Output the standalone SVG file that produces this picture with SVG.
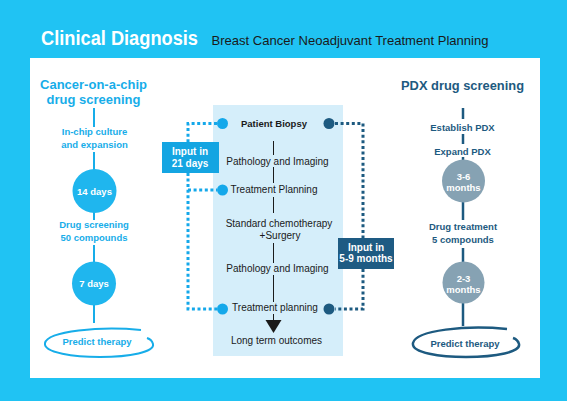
<svg xmlns="http://www.w3.org/2000/svg" width="567" height="401" viewBox="0 0 567 401">
<defs>
<style>
.t{font-family:"Liberation Sans",Arial,sans-serif}
.b{font-weight:bold}
.c{text-anchor:middle}
.lb{fill:#17ade9}
.db{fill:#1d5a80}
.w{fill:#ffffff}
.k{fill:#1a1a1a}
.ll{stroke:#17ade9;stroke-width:2;fill:none}
.dl{stroke:#1d5a80;stroke-width:2.5;fill:none}
.kl{stroke:#1a1a1a;stroke-width:1;fill:none}
.dotL{stroke:#14a8ea;stroke-width:3;stroke-dasharray:3 2.6;fill:none}
.dotR{stroke:#1d5a80;stroke-width:3;stroke-dasharray:3 2.6;fill:none}
</style>
</defs>
<rect x="0" y="0" width="567" height="401" fill="#20c3f3"/>
<rect x="30" y="58" width="510" height="320" fill="#ffffff"/>
<g id="title">
<text class="t b w" x="41" y="44.5" font-size="20" textLength="157" lengthAdjust="spacingAndGlyphs">Clinical Diagnosis</text>
<text class="t k" x="211.5" y="45" font-size="13" textLength="277" lengthAdjust="spacingAndGlyphs">Breast Cancer Neoadjuvant Treatment Planning</text>
</g>
<rect id="center-panel" x="213" y="105" width="130" height="251" fill="#d5eefa"/>

<g id="connectors">
<line class="ll" x1="94" y1="108" x2="94" y2="127"/>
<line class="ll" x1="94" y1="152" x2="94" y2="170"/>
<line class="ll" x1="94" y1="212" x2="94" y2="220"/>
<line class="ll" x1="94" y1="245" x2="94" y2="262"/>
<line class="ll" x1="94" y1="305" x2="94" y2="323"/>
<line class="dl" x1="463" y1="108" x2="463" y2="119"/>
<line class="dl" x1="463" y1="134" x2="463" y2="144"/>
<line class="dl" x1="463" y1="157" x2="463" y2="160"/>
<line class="dl" x1="463" y1="202" x2="463" y2="220"/>
<line class="dl" x1="463" y1="248" x2="463" y2="262"/>
<line class="dl" x1="463" y1="303" x2="463" y2="326"/>
<line class="kl" x1="273.5" y1="141" x2="273.5" y2="155"/>
<line class="kl" x1="273.5" y1="167" x2="273.5" y2="183"/>
<line class="kl" x1="273.5" y1="197" x2="273.5" y2="213"/>
<line class="kl" x1="273.5" y1="243" x2="273.5" y2="263"/>
<line class="kl" x1="273.5" y1="275" x2="273.5" y2="302"/>
<line class="kl" x1="273.5" y1="314" x2="273.5" y2="321"/>
<polygon points="265.5,320 281.5,320 273.5,333" fill="#1a1a1a"/>
<path class="dotL" d="M217,123.5 H188 V309 H217"/>
<path class="dotL" d="M188,190 H217"/>
<path class="dotR" d="M335,123.5 H363 V309 H335"/>
</g>

<g id="left-header">
<text class="t b lb c" x="93.5" y="89" font-size="13.5" textLength="107" lengthAdjust="spacingAndGlyphs">Cancer-on-a-chip</text>
<text class="t b lb c" x="93.5" y="104" font-size="13.5" textLength="94" lengthAdjust="spacingAndGlyphs">drug screening</text>
</g>
<g id="left-culture">
<text class="t b lb c" x="94.5" y="135" font-size="9.5">In-chip culture</text>
<text class="t b lb c" x="94.5" y="148" font-size="9.5">and expansion</text>
</g>
<g id="left-14days">
<circle cx="94.5" cy="191" r="22" fill="#1fb6ee"/>
<text class="t b w c" x="94.5" y="194.5" font-size="9.5">14 days</text>
</g>
<g id="left-screening">
<text class="t b lb c" x="94" y="228" font-size="9.5">Drug screening</text>
<text class="t b lb c" x="94" y="241" font-size="9.5">50 compounds</text>
</g>
<g id="left-7days">
<circle cx="94" cy="283.5" r="22" fill="#1fb6ee"/>
<text class="t b w c" x="94" y="287" font-size="9.5">7 days</text>
</g>
<g id="left-predict">
<path class="ll" d="M141,330 C100,326 48,331 45,343 C43,353 75,357 100,357 C130,357 155,352 153,344 C152,340 150,339 147,338"/>
<text class="t b lb c" x="97" y="344.5" font-size="9.5">Predict therapy</text>
</g>

<g id="right-header">
<text class="t b db c" x="462.5" y="90" font-size="13.5" textLength="123" lengthAdjust="spacingAndGlyphs">PDX drug screening</text>
</g>
<g id="right-establish">
<text class="t b db c" x="462.5" y="131" font-size="9.5">Establish PDX</text>
</g>
<g id="right-expand">
<text class="t b db c" x="462.5" y="155" font-size="9.5">Expand PDX</text>
</g>
<g id="right-36months">
<circle cx="463.5" cy="181" r="21.5" fill="#86a2b3"/>
<text class="t b w c" x="463.5" y="180" font-size="9.5">3-6</text>
<text class="t b w c" x="463.5" y="191" font-size="9.5">months</text>
</g>
<g id="right-treatment">
<text class="t b db c" x="463" y="229.5" font-size="9.5">Drug treatment</text>
<text class="t b db c" x="463" y="242.5" font-size="9.5">5 compounds</text>
</g>
<g id="right-23months">
<circle cx="463.5" cy="282.5" r="21" fill="#86a2b3"/>
<text class="t b w c" x="463.5" y="281.5" font-size="9.5">2-3</text>
<text class="t b w c" x="463.5" y="292.5" font-size="9.5">months</text>
</g>
<g id="right-predict">
<path class="dl" d="M507,329 C466,325 416,330 413,343 C411,353 441,357 466,357 C496,357 521,352 519,344 C518,340 516,339 513,338"/>
<text class="t b db c" x="465" y="346.5" font-size="9.5">Predict therapy</text>
</g>

<g id="biopsy">
<circle cx="222.5" cy="123.5" r="5.5" fill="#14a8ea"/>
<circle cx="329" cy="123.5" r="5.5" fill="#1d5a80"/>
<text class="t b k c" x="274" y="126.5" font-size="9.5">Patient Biopsy</text>
</g>
<g id="path-imaging-1">
<text class="t k c" x="277.5" y="165" font-size="10">Pathology and Imaging</text>
</g>
<g id="treatment-planning-1">
<circle cx="222.5" cy="190" r="5.5" fill="#14a8ea"/>
<text class="t k c" x="274" y="192.5" font-size="10">Treatment Planning</text>
</g>
<g id="chemo">
<text class="t k c" x="279" y="226.5" font-size="10">Standard chemotherapy</text>
<text class="t k c" x="280" y="238.5" font-size="10">+Surgery</text>
</g>
<g id="path-imaging-2">
<text class="t k c" x="277.5" y="272" font-size="10">Pathology and Imaging</text>
</g>
<g id="treatment-planning-2">
<circle cx="222.5" cy="309" r="5.5" fill="#14a8ea"/>
<circle cx="329" cy="309" r="5.5" fill="#1d5a80"/>
<text class="t k c" x="275" y="311" font-size="10">Treatment planning</text>
</g>
<g id="outcomes">
<text class="t k c" x="276.5" y="343.5" font-size="10">Long term outcomes</text>
</g>

<g id="input-21">
<rect x="162" y="142" width="57" height="31" fill="#14a5e2"/>
<text class="t b w c" x="190" y="155" font-size="10">Input in</text>
<text class="t b w c" x="190" y="167" font-size="10">21 days</text>
</g>
<g id="input-59">
<rect x="338" y="238" width="56" height="31" fill="#1e5b83"/>
<text class="t b w c" x="366" y="250.5" font-size="10">Input in</text>
<text class="t b w c" x="366" y="262" font-size="10">5-9 months</text>
</g>
</svg>
